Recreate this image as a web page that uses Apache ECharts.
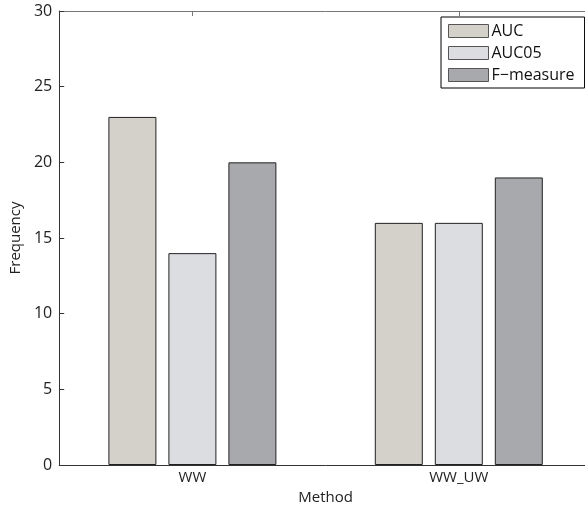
<!DOCTYPE html>
<html>
<head>
<meta charset="utf-8">
<script src="https://cdn.jsdelivr.net/npm/echarts@6/dist/echarts.min.js"></script>
<style>
  html, body { margin: 0; padding: 0; background: #fff; overflow: hidden; }
  /* the plot box runs past the right edge of the window */
  #chart { width: 600px; height: 510px; }
</style>
</head>
<body>
<div id="chart"></div>
<script>
// Frequency of each measure per method
const methods = ['WW', 'WW_UW'];
const seriesNames = ['AUC', 'AUC05', 'F\u2212measure'];
const aucValues = [23, 16];
const auc05Values = [14, 16];
const fMeasureValues = [20, 19];
const yTicks = [0, 5, 10, 15, 20, 25, 30];

const colors = ['#d4d0ca', '#dcdde0', '#a8a9ad'];
const FONT = '"Open Sans", "DejaVu Sans", sans-serif';
const axisColor = '#333';

const chart = echarts.init(document.getElementById('chart'), null, { renderer: 'canvas' });

function barSeries(name, data, color) {
  return {
    name: name,
    type: 'bar',
    data: data,
    barWidth: 48,
    barGap: '25%',
    itemStyle: { color: color, borderColor: '#222', borderWidth: 1 },
    emphasis: { disabled: true }
  };
}

chart.setOption({
  animation: false,
  textStyle: { fontFamily: FONT },
  grid: { left: 57, top: 11, right: 8, bottom: 45, containLabel: false },
  legend: {
    orient: 'vertical',
    left: 441,
    top: 17,
    width: 133,
    padding: [6, 10, 5, 7],
    itemWidth: 40,
    itemHeight: 13,
    itemGap: 6,
    icon: 'rect',
    backgroundColor: '#fff',
    borderColor: '#000',
    borderWidth: 1,
    itemStyle: { borderColor: '#555', borderWidth: 1 },
    textStyle: { fontFamily: FONT, fontSize: 16, lineHeight: 15, color: '#111', padding: [0, 0, 0, -2] },
    data: seriesNames
  },
  xAxis: [
    {
      type: 'category',
      data: methods,
      position: 'bottom',
      name: 'Method',
      nameLocation: 'middle',
      nameGap: 24,
      nameTextStyle: { fontFamily: FONT, fontSize: 15, color: '#222' },
      axisLine: { show: true, lineStyle: { color: axisColor, width: 1 } },
      axisTick: { show: true, inside: true, alignWithLabel: true, length: 5, lineStyle: { color: axisColor } },
      axisLabel: { fontFamily: FONT, fontSize: 15, color: '#222', margin: 5 },
      splitLine: { show: false }
    },
    {
      type: 'category',
      data: methods,
      position: 'top',
      axisLine: { show: true, onZero: false, lineStyle: { color: '#777', width: 1 } },
      axisTick: { show: true, inside: true, alignWithLabel: true, length: 5, lineStyle: { color: '#777' } },
      axisLabel: { show: false },
      splitLine: { show: false }
    }
  ],
  yAxis: {
    type: 'value',
    min: yTicks[0],
    max: yTicks[yTicks.length - 1],
    interval: 5,
    name: 'Frequency',
    nameLocation: 'middle',
    nameGap: 34,
    nameTextStyle: { fontFamily: FONT, fontSize: 15, color: '#222' },
    axisLine: { show: true, lineStyle: { color: axisColor, width: 1 } },
    axisTick: { show: true, inside: true, length: 5, lineStyle: { color: axisColor } },
    axisLabel: { fontFamily: FONT, fontSize: 16, color: '#222', margin: 7 },
    splitLine: { show: false }
  },
  series: [
    barSeries(seriesNames[0], aucValues, colors[0]),
    barSeries(seriesNames[1], auc05Values, colors[1]),
    barSeries(seriesNames[2], fMeasureValues, colors[2])
  ]
});
</script>
</body>
</html>
